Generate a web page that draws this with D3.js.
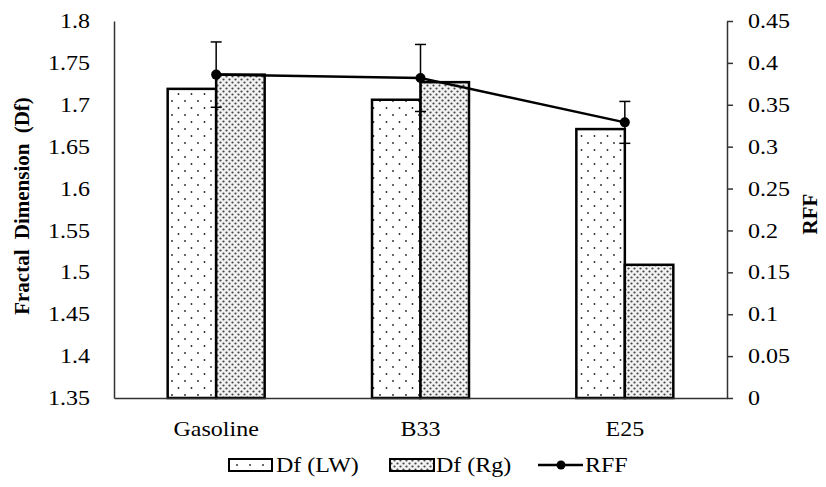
<!DOCTYPE html>
<html><head><meta charset="utf-8">
<script src="https://cdn.jsdelivr.net/npm/d3@7"></script>
<style>
body{margin:0;background:#fff}
svg text{font-family:"Liberation Serif","Times New Roman",serif !important;fill:#000}
</style></head>
<body><svg id="c" width="826" height="487"></svg>
<script>
const categories = ["Gasoline","B33","E25"];
const seriesNames = ["Df (LW)","Df (Rg)"];
const dfLW = [1.719, 1.706, 1.671];
const dfRg = [1.736, 1.727, 1.509];
const rff = [0.386, 0.382, 0.329];
const rffErr = [0.039, 0.040, 0.025];
const leftTicks = [1.35,1.4,1.45,1.5,1.55,1.6,1.65,1.7,1.75,1.8];
const rightTicks = [0,0.05,0.1,0.15,0.2,0.25,0.3,0.35,0.4,0.45];

const SX = 1.2; // horizontal text stretch
const FONT = '"Liberation Serif","Times New Roman",serif';
const svg = d3.select("#c");
const defs = svg.append("defs");
// sparse dots
const p1 = defs.append("pattern").attr("id","pLW").attr("patternUnits","userSpaceOnUse").attr("width",13).attr("height",14);
p1.append("rect").attr("width",13).attr("height",14).attr("fill","#fff");
p1.append("circle").attr("cx",3).attr("cy",3).attr("r",0.9).attr("fill","#222");
p1.append("circle").attr("cx",9.5).attr("cy",10).attr("r",0.9).attr("fill","#222");
// dense dots
const p2 = defs.append("pattern").attr("id","pRg").attr("patternUnits","userSpaceOnUse").attr("width",6).attr("height",6);
p2.append("rect").attr("width",6).attr("height",6).attr("fill","#f2f2f2");
p2.append("circle").attr("cx",1.5).attr("cy",1.5).attr("r",1.1).attr("fill","#444");
p2.append("circle").attr("cx",4.5).attr("cy",4.5).attr("r",1.1).attr("fill","#444");

const L = 114, R = 727, T = 21, B = 398;
const x = d3.scaleBand().domain(categories).range([L,R]).padding(0);
const xs = d3.scaleBand().domain(seriesNames).range([0,x.bandwidth()]).paddingInner(0).paddingOuter(1.107);
const yL = d3.scaleLinear().domain([1.35,1.8]).range([B,T]);
const yR = d3.scaleLinear().domain([0,0.45]).range([B,T]);

const fills = ["url(#pLW)","url(#pRg)"];
const data = [dfLW, dfRg];
seriesNames.forEach((s,si)=>{
  svg.append("g").selectAll("rect").data(categories).join("rect")
    .attr("x",c=>x(c)+xs(s)).attr("width",xs.bandwidth())
    .attr("y",(c,i)=>yL(data[si][i])).attr("height",(c,i)=>B-yL(data[si][i]))
    .attr("fill",fills[si]).attr("stroke","#000").attr("stroke-width",2.5);
});

// axes
function stretchText(g, dx){
  g.selectAll("text").attr("transform",`scale(${SX},1)`).attr("x", dx/SX);
}
const gl = svg.append("g").attr("transform",`translate(${L},0)`)
  .call(d3.axisLeft(yL).tickValues(leftTicks).tickSize(0).tickPadding(0).tickFormat(d=>String(+d.toFixed(2))));
gl.attr("font-family",null);
gl.select(".domain").attr("stroke","#333").attr("stroke-width",1.5);
gl.selectAll("text").style("font-family",FONT).style("font-size","20px").attr("dy","0.33em");
stretchText(gl,-24);

const gr = svg.append("g").attr("transform",`translate(${R},0)`)
  .call(d3.axisRight(yR).tickValues(rightTicks).tickSizeInner(6).tickSizeOuter(0).tickFormat(d=>String(+d.toFixed(2))));
gr.attr("font-family",null);
gr.select(".domain").attr("stroke","#333").attr("stroke-width",1.5);
gr.selectAll(".tick line").attr("stroke","#333").attr("stroke-width",1.5);
gr.selectAll("text").style("font-family",FONT).style("font-size","20px").attr("dy","0.33em");
stretchText(gr,21);

const gx = svg.append("g").attr("transform",`translate(0,${B})`)
  .call(d3.axisBottom(x).tickSize(0).tickPadding(0));
gx.attr("font-family",null);
gx.select(".domain").attr("stroke","#333").attr("stroke-width",1.5);
gx.selectAll("text").style("font-family",FONT).style("font-size","20px").attr("dy","0").attr("y",38);
gx.selectAll("text").attr("transform",`scale(${SX},1)`);

// RFF line
const cx = c=>x(c)+x.bandwidth()/2;
const line = d3.line().x((d,i)=>cx(categories[i])).y(d=>yR(d));
svg.append("path").datum(rff).attr("d",line).attr("fill","none").attr("stroke","#000").attr("stroke-width",2.5);
// error bars
const eb = svg.append("g").attr("stroke","#000").attr("stroke-width",1.5);
rff.forEach((v,i)=>{
  const xc = cx(categories[i]);
  eb.append("line").attr("x1",xc).attr("x2",xc).attr("y1",yR(v+rffErr[i])).attr("y2",yR(v-rffErr[i]));
  eb.append("line").attr("x1",xc-5.5).attr("x2",xc+5.5).attr("y1",yR(v+rffErr[i])).attr("y2",yR(v+rffErr[i]));
  eb.append("line").attr("x1",xc-5.5).attr("x2",xc+5.5).attr("y1",yR(v-rffErr[i])).attr("y2",yR(v-rffErr[i]));
});
svg.append("g").selectAll("circle").data(rff).join("circle")
  .attr("cx",(d,i)=>cx(categories[i])).attr("cy",d=>yR(d)).attr("r",5).attr("fill","#000");

// axis titles
svg.append("text").attr("transform",`translate(29,${206}) rotate(-90)`)
  .attr("text-anchor","middle").style("font-family",FONT).style("font-size","21px").style("font-weight","bold")
  .style("word-spacing","5px").text("Fractal Dimension (Df)");
svg.append("text").attr("transform",`translate(817,${214}) rotate(-90)`)
  .attr("text-anchor","middle").style("font-family",FONT).style("font-size","21px").style("font-weight","bold").text("RFF");

// legend
const lg = svg.append("g");
const ly = 465;
lg.append("rect").attr("x",229).attr("y",ly-6).attr("width",43).attr("height",12).attr("fill",fills[0]).attr("stroke","#000").attr("stroke-width",2);
lg.append("text").attr("transform",`translate(276,${ly+7}) scale(${SX},1)`).style("font-family",FONT).style("font-size","20px").text(seriesNames[0]);
lg.append("rect").attr("x",390).attr("y",ly-6).attr("width",44).attr("height",12).attr("fill",fills[1]).attr("stroke","#000").attr("stroke-width",2);
lg.append("text").attr("transform",`translate(436,${ly+7}) scale(${SX},1)`).style("font-family",FONT).style("font-size","20px").text(seriesNames[1]);
lg.append("line").attr("x1",538).attr("x2",583).attr("y1",ly).attr("y2",ly).attr("stroke","#000").attr("stroke-width",2.5);
lg.append("circle").attr("cx",561).attr("cy",ly).attr("r",4.5).attr("fill","#000");
lg.append("text").attr("transform",`translate(585,${ly+7}) scale(${SX},1)`).style("font-family",FONT).style("font-size","20px").text("RFF");
</script></body></html>
